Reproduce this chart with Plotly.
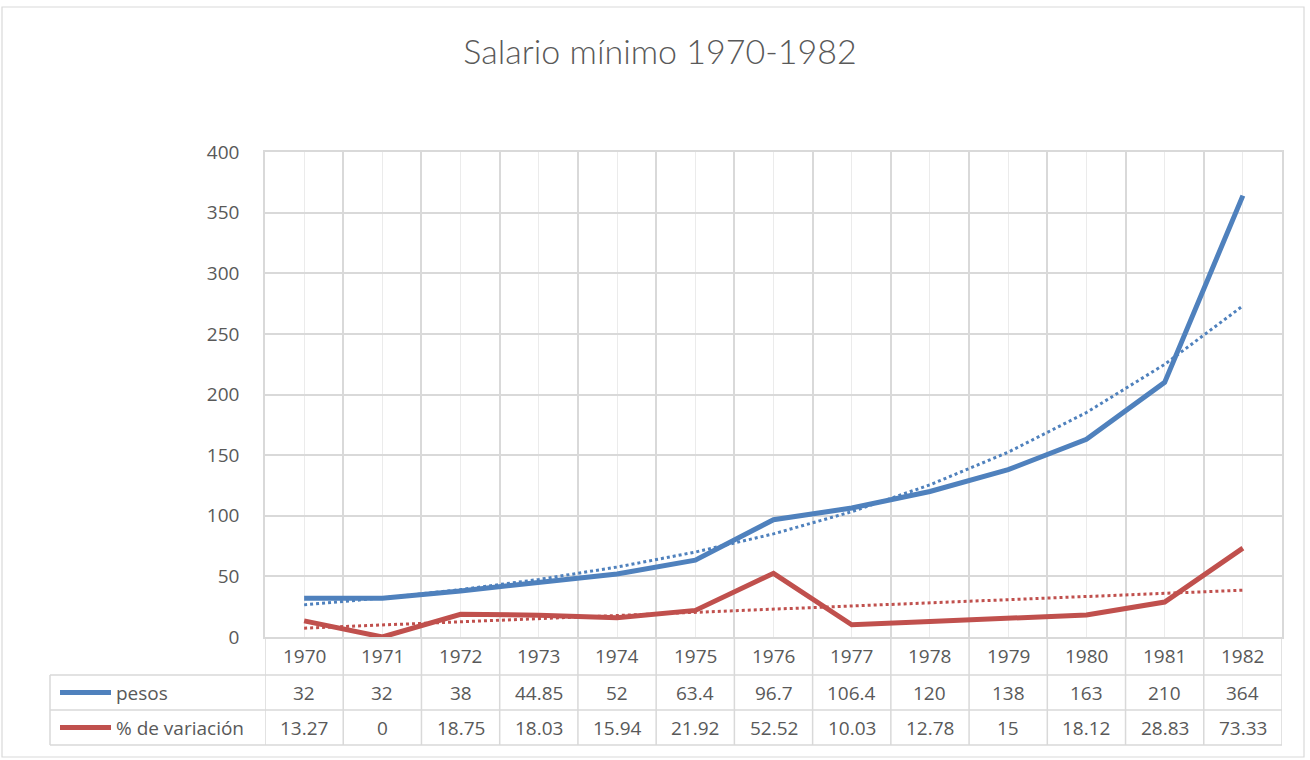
import numpy as np
import plotly.graph_objects as go

years = ["1970", "1971", "1972", "1973", "1974", "1975", "1976", "1977", "1978", "1979", "1980", "1981", "1982"]
pesos = [32, 32, 38, 44.85, 52, 63.4, 96.7, 106.4, 120, 138, 163, 210, 364]
variacion = [13.27, 0, 18.75, 18.03, 15.94, 21.92, 52.52, 10.03, 12.78, 15, 18.12, 28.83, 73.33]
pesos_label = ["32", "32", "38", "44.85", "52", "63.4", "96.7", "106.4", "120", "138", "163", "210", "364"]
var_label = ["13.27", "0", "18.75", "18.03", "15.94", "21.92", "52.52", "10.03", "12.78", "15", "18.12", "28.83", "73.33"]
title = "Salario mínimo 1970-1982"
names = ["pesos", "% de variación"]

BLUE = "#4F81BD"
RED = "#C0504D"
TXT = "#595959"
GRID = "#D9D9D9"
FONT = "Open Sans"

n = len(years)
xs = np.arange(n)

# Excel-style trendlines: exponential for pesos, linear for % variation
b, a = np.polyfit(xs, np.log(pesos), 1)
exp_trend = np.exp(a + b * xs)
m, c = np.polyfit(xs, variacion, 1)
lin_trend = m * xs + c

fig = go.Figure()
fig.add_trace(go.Scatter(x=xs, y=exp_trend, mode="lines",
                         line=dict(color=BLUE, width=3, dash="dot"), showlegend=False, hoverinfo="skip"))
fig.add_trace(go.Scatter(x=xs, y=lin_trend, mode="lines",
                         line=dict(color=RED, width=3, dash="dot"), showlegend=False, hoverinfo="skip"))
fig.add_trace(go.Scatter(x=xs, y=pesos, mode="lines", name=names[0],
                         line=dict(color=BLUE, width=5), showlegend=False))
fig.add_trace(go.Scatter(x=xs, y=variacion, mode="lines", name=names[1],
                         line=dict(color=RED, width=5), showlegend=False))

L, R, T, B = 265, 28, 152, 123
W, H = 1310, 760
pw, ph = W - L - R, H - T - B

def px(xp):
    return (xp - L) / pw

def py(yp):
    return (H - B - yp) / ph

shapes = []
annotations = []

# table horizontal lines
for yp, x0 in [(675, 50), (710, 50), (745, 50)]:
    shapes.append(dict(type="line", xref="paper", yref="paper", x0=px(x0), x1=1, y0=py(yp), y1=py(yp),
                       line=dict(color=GRID, width=1.5)))
# table vertical lines
for i in range(n + 1):
    shapes.append(dict(type="line", xref="x", yref="paper", x0=i - 0.5, x1=i - 0.5, y0=0, y1=py(745),
                       line=dict(color=GRID, width=1.5)))
shapes.append(dict(type="line", xref="paper", yref="paper", x0=px(50), x1=px(50), y0=py(675), y1=py(745),
                   line=dict(color=GRID, width=1.5)))

# outer chart border
shapes.append(dict(type="rect", xref="paper", yref="paper", x0=px(2), x1=px(1304), y0=py(757), y1=py(7),
                   line=dict(color=GRID, width=1.2), layer="below"))

# legend keys in table
for yp, col in [(692.5, BLUE), (727.5, RED)]:
    shapes.append(dict(type="line", xref="paper", yref="paper", x0=px(60), x1=px(111), y0=py(yp), y1=py(yp),
                       line=dict(color=col, width=5)))

annotations.append(dict(x=px(114), y=py(692.5), xref="paper", yref="paper", text=names[0], showarrow=False,
                        xanchor="left", yanchor="middle", font=dict(family=FONT, size=19, color=TXT)))
annotations.append(dict(x=px(114), y=py(727.5), xref="paper", yref="paper", text=names[1], showarrow=False,
                        xanchor="left", yanchor="middle", font=dict(family=FONT, size=19, color=TXT)))

for i in range(n):
    for yp, txt in [(656, years[i]), (692.5, pesos_label[i]), (727.5, var_label[i])]:
        annotations.append(dict(x=i, y=py(yp), xref="x", yref="paper", text=txt, showarrow=False,
                                xanchor="center", yanchor="middle", font=dict(family=FONT, size=19, color=TXT)))

fig.update_layout(
    width=W, height=H,
    margin=dict(l=L, r=R, t=T, b=B),
    paper_bgcolor="white", plot_bgcolor="white",
    title=dict(text=title, x=660 / W, xref="container", y=1 - 52 / H, yref="container",
               yanchor="middle", xanchor="center",
               font=dict(family="Lato", size=34, color=TXT, weight=300)),
    shapes=shapes, annotations=annotations,
    xaxis=dict(range=[-0.5, n - 0.5], tickvals=[i - 0.5 for i in range(n + 1)], showticklabels=False,
               showgrid=True, gridcolor=GRID, gridwidth=1.5, zeroline=False, ticks="",
               showline=True, mirror=True, linecolor=GRID, linewidth=1.5,
               minor=dict(tickvals=list(range(n)), showgrid=True, gridcolor="#EBEBEB", gridwidth=1.2)),
    yaxis=dict(range=[0, 400], dtick=50, showgrid=True, gridcolor=GRID, gridwidth=1.5, zeroline=False,
               showline=True, mirror=True, linecolor=GRID, linewidth=1.5, ticks="",
               ticklabelstandoff=20, tickfont=dict(family=FONT, size=19, color=TXT)),
)

fig.write_html("out.html", config={"displayModeBar": False},
               post_script="document.body.style.margin='0px';")
